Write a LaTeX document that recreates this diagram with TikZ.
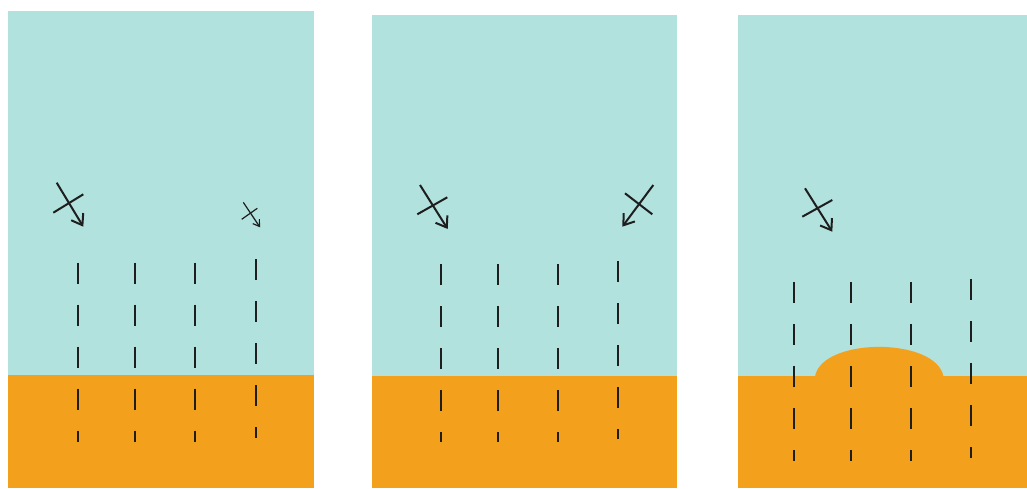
\documentclass[tikz,border=0pt]{standalone}
\usetikzlibrary{arrows.meta}
\definecolor{water}{RGB}{178,226,222}
\definecolor{soil}{RGB}{243,160,29}
\definecolor{ink}{RGB}{30,30,30}
\tikzset{
  waterbox/.style={fill=water,draw=none},
  soilbox/.style={fill=soil,draw=none},
  rayline/.style={draw=ink,line width=2pt,dash pattern=on 21pt off 21pt},
  bigarrow/.style={draw=ink,line width=2pt,-{Straight Barb[length=10pt,width=14pt]}},
  smallarrow/.style={draw=ink,line width=1.2pt,-{Straight Barb[length=6pt,width=8pt]}},
  bigcross/.style={draw=ink,line width=2pt},
  smallcross/.style={draw=ink,line width=1.2pt}
}
\begin{document}
\begin{tikzpicture}[x=1pt,y=-1pt]
\useasboundingbox (0,0) rectangle (1027,488);
% panel 1
\fill[waterbox] (8,11) rectangle (314,375);
\fill[soilbox] (8,375) rectangle (314,488);
% panel 2
\fill[waterbox] (372,15) rectangle (677,376);
\fill[soilbox] (372,376) rectangle (677,488);
% panel 3
\fill[waterbox] (738,15) rectangle (1027,376);
\fill[soilbox] (738,376) rectangle (1027,488);
\fill[soilbox] (815,376.5) .. controls (822,337) and (936,337) .. (943.5,376.5) -- cycle;
% dashed lines panel 1
\foreach \x in {78,135,195.3} \draw[rayline] (\x,262.7) -- (\x,441.7);
\draw[rayline] (255.7,259.3) -- (255.7,438.3);
% dashed lines panel 2
\foreach \x in {441,498.3,558.3} \draw[rayline] (\x,264) -- (\x,442.3);
\draw[rayline] (618.3,261.3) -- (618.3,439);
% dashed lines panel 3
\foreach \x in {794.3,851,911.3} \draw[rayline] (\x,282.3) -- (\x,460.7);
\draw[rayline] (971.3,279.3) -- (971.3,457.7);
% arrows panel 1
\coordinate (a1s) at (56.7,182.7); \coordinate (a1t) at (83.3,226.7);
\coordinate (c1a) at (53.3,212.7); \coordinate (c1b) at (83.3,194.3);
\draw[bigarrow] (a1s) -- (a1t);
\draw[bigcross] (c1a) -- (c1b);
\coordinate (a2s) at (243.3,202.3); \coordinate (a2t) at (260,227.3);
\coordinate (c2a) at (241.7,219.3); \coordinate (c2b) at (257.3,208.3);
\draw[smallarrow] (a2s) -- (a2t);
\draw[smallcross] (c2a) -- (c2b);
% arrows panel 2
\coordinate (a3s) at (420,185); \coordinate (a3t) at (447.7,229);
\coordinate (c3a) at (417.3,214.3); \coordinate (c3b) at (447.3,197.3);
\draw[bigarrow] (a3s) -- (a3t);
\draw[bigcross] (c3a) -- (c3b);
\coordinate (a4s) at (653.3,185); \coordinate (a4t) at (622.3,226.7);
\coordinate (c4a) at (625,193.3); \coordinate (c4b) at (652.3,214.3);
\draw[bigarrow] (a4s) -- (a4t);
\draw[bigcross] (c4a) -- (c4b);
% arrow panel 3
\coordinate (a5s) at (805,188.3); \coordinate (a5t) at (832.3,231.7);
\coordinate (c5a) at (802.3,216.7); \coordinate (c5b) at (832.3,200);
\draw[bigarrow] (a5s) -- (a5t);
\draw[bigcross] (c5a) -- (c5b);
\end{tikzpicture}
\end{document}
